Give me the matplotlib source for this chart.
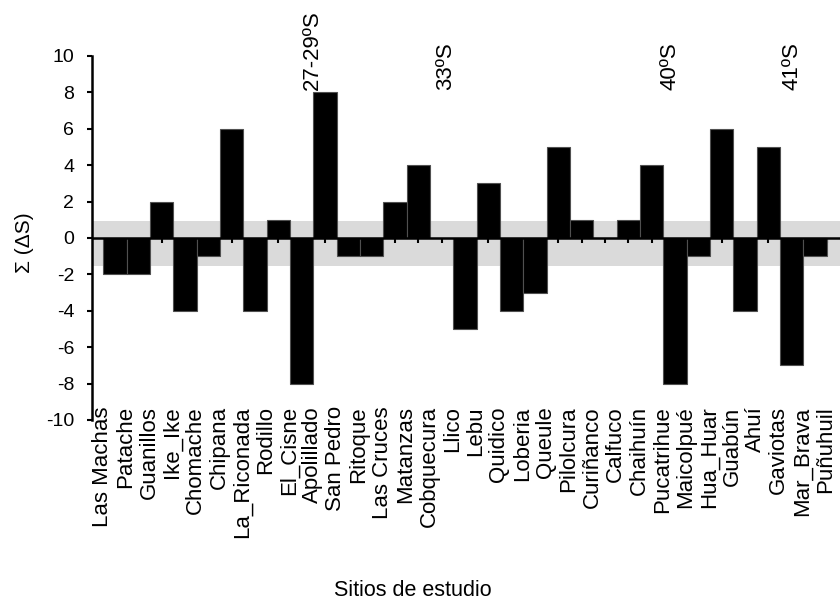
import numpy as np
import matplotlib.pyplot as plt

plt.rcParams['font.family'] = ['Liberation Sans', 'DejaVu Sans']
plt.rcParams['axes.unicode_minus'] = False

sites = ["Las Machas", "Patache", "Guanillos", "Ike_Ike", "Chomache", "Chipana",
         "La_Riconada", "Rodillo", "El_Cisne", "Apolillado", "San Pedro", "Ritoque",
         "Las Cruces", "Matanzas", "Cobquecura", "Llico", "Lebu", "Quidico", "Loberia",
         "Queule", "Pilolcura", "Curiñanco", "Calfuco", "Chaihuín", "Pucatrihue",
         "Maicolpué", "Hua_Huar", "Guabún", "Ahuí", "Gaviotas", "Mar_Brava", "Puñuhuil"]

# bar values visible in the picture (31 bars, last category cut at the edge)
delta_s = [-2, -2, 2, -4, -1, 6, -4, 1, -8, 8, -1, -1, 2, 4, 0, -5, 3, -4, -3, 5,
           1, 0, 1, 4, -8, -1, 6, -4, 5, -7, -1]

band_low, band_high = -1.52, 0.93

lat_labels = ["27-29ºS", "33ºS", "40ºS", "41ºS"]
lat_pos = [8.45, 14.15, 23.8, 29.0]

fig = plt.figure(figsize=(8.4, 6.03), dpi=100)
ax = fig.add_axes([92 / 840, 1 - 420 / 603, 1 - 92 / 840, (420 - 56) / 603])

x = np.arange(len(delta_s))
ax.axhspan(band_low, band_high, color='#dadada', lw=0, zorder=0)
ax.bar(x, delta_s, width=1.0, color='black', edgecolor='#505050', linewidth=0.8, zorder=2)
ax.axhline(0, color='black', lw=1.8, zorder=3)

# small ticks hanging under the zero line
tick_x = list(x) + [len(delta_s) - 0.5]
ax.vlines(tick_x, -0.3, 0, color='black', lw=1.5, zorder=1)

ax.set_xlim(-0.99, 31.07)
ax.set_ylim(-10, 10)
ax.set_yticks(np.arange(-10, 11, 2))
ax.tick_params(axis='y', direction='out', length=3.8, width=1.5, labelsize=14, pad=9)
ax.set_xticks([])
for s in ['top', 'right', 'bottom']:
    ax.spines[s].set_visible(False)
ax.spines['left'].set_linewidth(1.8)

for i, name in enumerate(sites):
    ax.text(i - 0.55, -9.25, name, rotation=90, ha='center', va='top',
            fontsize=16, clip_on=False)

for lab, px in zip(lat_labels, lat_pos):
    ax.text(px, 8.13, lab, rotation=90, ha='center', va='bottom', fontsize=16,
            clip_on=False)

fig.text(24 / 840, 1 - 243 / 603, "Σ (ΔS)", rotation=90, ha='center', va='center',
         fontsize=15)
fig.text(413 / 840, 1 - 590 / 603, "Sitios de estudio", ha='center', va='center',
         fontsize=15.5)

fig.savefig("out.png", dpi=100)
